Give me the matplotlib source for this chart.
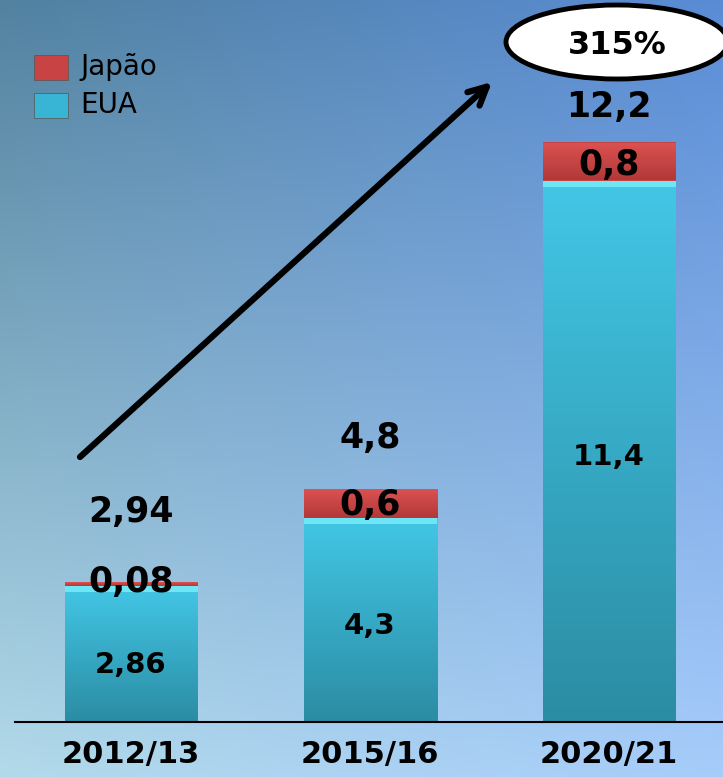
import numpy as np
import matplotlib.pyplot as plt
from matplotlib.patches import Ellipse, Rectangle

# data
anos = ['2012/13', '2015/16', '2020/21']
eua = [2.86, 4.3, 11.4]
japao = [0.08, 0.6, 0.8]
eua_lbl = ['2,86', '4,3', '11,4']
jap_lbl = ['0,08', '0,6', '0,8']
total_lbl = ['2,94', '4,8', '12,2']
crescimento = '315%'

W, H = 723, 777
fig = plt.figure(figsize=(W / 100, H / 100), dpi=100)

# background gradient
bg = fig.add_axes([0, 0, 1, 1])
tl = np.array([82, 130, 160]) / 255
tr = np.array([90, 140, 214]) / 255
bl = np.array([178, 218, 234]) / 255
br = np.array([166, 204, 250]) / 255
yy, xx = np.mgrid[0:1:200j, 0:1:200j]
img = (tl * ((1 - xx) * (1 - yy))[..., None] + tr * (xx * (1 - yy))[..., None]
       + bl * ((1 - xx) * yy)[..., None] + br * (xx * yy)[..., None])
bg.imshow(img, aspect='auto', extent=[0, 1, 0, 1], origin='upper')
bg.set_xlim(0, 1)
bg.set_ylim(0, 1)
bg.axis('off')

base = 722
ax = fig.add_axes([0, (H - base) / H, 1, base / H])
ax.patch.set_alpha(0)
x = np.arange(len(anos))
wd = 133 / 239

b1 = ax.bar(x, eua, width=wd, color='#38b4d4', edgecolor='none', zorder=2)
b2 = ax.bar(x, japao, bottom=eua, width=wd, color='#c84444', edgecolor='none', zorder=2)


def shade(bars, top, bot, zo):
    g = np.linspace(0, 1, 100)[:, None, None]
    c = np.array(top)[None, None, :] * (1 - g) + np.array(bot)[None, None, :] * g
    for r in bars:
        x0, y0 = r.get_x(), r.get_y()
        im = ax.imshow(c, aspect='auto', extent=[x0, x0 + r.get_width(), y0, y0 + r.get_height()],
                       origin='upper', zorder=zo)
        im.set_clip_path(r)


shade(b1, [0.26, 0.78, 0.90], [0.17, 0.55, 0.64], 3)
shade(b2, [0.86, 0.32, 0.32], [0.70, 0.22, 0.22], 3)
# highlight at the top of the blue segment
for r in b1:
    ax.add_patch(Rectangle((r.get_x(), r.get_y() + r.get_height() - 0.13), r.get_width(), 0.13,
                           color='#6fe6f6', zorder=4, lw=0))

ax.set_ylim(0, 15.2)
ax.set_xlim(-131 / 239, 2 + (W - 609) / 239)

for s in ['top', 'right', 'left', 'bottom']:
    ax.spines[s].set_visible(False)
ax.plot([-116 / 239, 2 + (W - 609) / 239], [0, 0], color='black', lw=1.5, zorder=5, clip_on=False)
ax.set_yticks([])
ax.set_xticks(x)
ax.set_xticklabels(anos, fontsize=22, fontweight='bold')
ax.tick_params(axis='x', length=0, pad=13)

# labels
eua_off = [-11, -6, -6]
for i in range(3):
    ax.annotate(eua_lbl[i], (x[i], eua[i] / 2), xytext=(0, eua_off[i]),
                textcoords='offset pixels', ha='center', va='center',
                fontsize=21, fontweight='bold', zorder=6)
jap_off = [2, -2, -3]
for i in range(3):
    ax.annotate(jap_lbl[i], (x[i], eua[i] + japao[i] / 2), xytext=(0, jap_off[i]),
                textcoords='offset pixels', ha='center', va='center',
                fontsize=25, fontweight='bold', zorder=6)
tot_off = [70, 51, 36]
for i in range(3):
    ax.annotate(total_lbl[i], (x[i], eua[i] + japao[i]), xytext=(0, tot_off[i]),
                textcoords='offset pixels', ha='center', va='center',
                fontsize=25, fontweight='bold', zorder=6)


# arrow and ellipse, in figure pixels
def fx(px):
    return px / W


def fy(py):
    return 1 - py / H


bg.annotate('', xy=(fx(492), fy(82)), xytext=(fx(80), fy(457)),
            arrowprops=dict(arrowstyle='->,head_length=1.3,head_width=0.65', lw=4.5,
                            color='black', shrinkA=0, shrinkB=0))
bg.add_patch(Ellipse((fx(617), fy(42)), 222 / W, 74 / H, facecolor='white',
                     edgecolor='black', lw=3.5, zorder=5))
bg.text(fx(617), fy(45), crescimento, ha='center', va='center', fontsize=23,
        fontweight='bold', zorder=6)

# legend
leg = [('Japão', '#c84444', 67), ('EUA', '#38b4d4', 105)]
for nome, cor, py in leg:
    bg.add_patch(Rectangle((fx(34), fy(py + 13)), 34 / W, 25 / H, facecolor=cor,
                           edgecolor='#555555', lw=0.5, zorder=5))
    bg.text(fx(80), fy(py), nome, ha='left', va='center', fontsize=20, zorder=6)

fig.savefig('out.png', dpi=100)
